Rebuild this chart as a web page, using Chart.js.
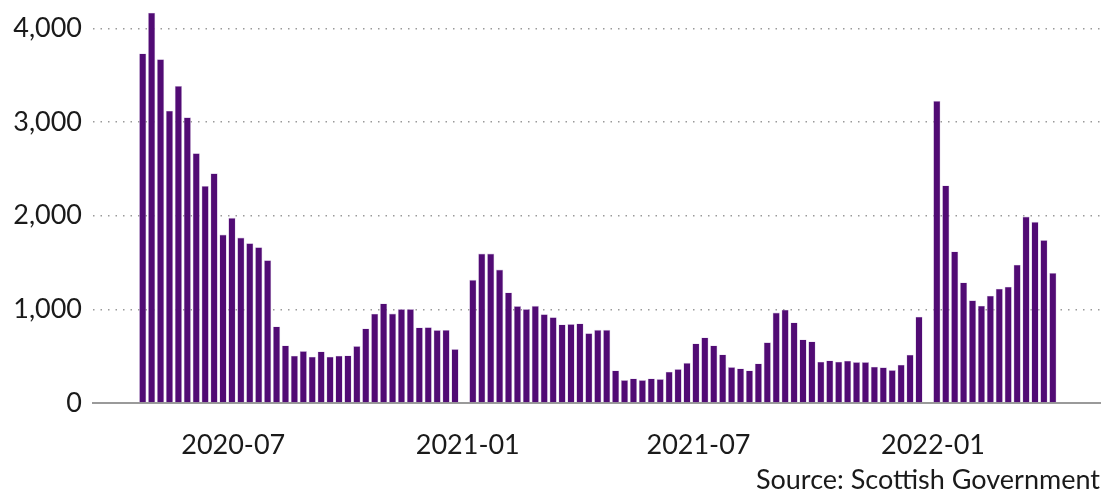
<!DOCTYPE html>
<html>
<head>
<meta charset="utf-8">
<script src="https://cdn.jsdelivr.net/npm/chart.js@4"></script>
<style>
  html, body { margin: 0; padding: 0; background: #fff; }
</style>
</head>
<body>
<canvas id="chartSemanal" width="1108" height="494"></canvas>
<script>
// Weekly figures, first week and the weeks that follow (null = no figure that week)
const firstWeek = '2020-04-21';
const weeklyValues = [
  3733, 4168, 3672, 3121, 3385, 3051, 2667, 2318, 2453, 1798,
  1977, 1767, 1707, 1664, 1525, 817, 615, 505, 555, 494,
  551, 494, 505, 508, 608, 796, 953, 1063, 955, 1003,
  1003, 807, 810, 779, 780, 576, null, 1315, 1596, 1596,
  1425, 1180, 1035, 1003, 1038, 949, 917, 839, 843, 849,
  746, 781, 781, 348, 245, 262, 245, 262, 256, 334,
  362, 429, 636, 700, 615, 519, 384, 369, 348, 423,
  648, 966, 996, 860, 679, 657, 441, 455, 441, 451,
  437, 437, 388, 381, 352, 409, 516, 922, null, 3227,
  2323, 1619, 1288, 1096, 1039, 1146, 1221, 1242, 1477, 1991,
  1935, 1740, 1388
];
const xTickDates = ['2020-07-01', '2021-01-01', '2021-07-01', '2022-01-01'];
const xTickLabels = ['2020-07', '2021-01', '2021-07', '2022-01'];
const yTickValues = [0, 1000, 2000, 3000, 4000];
const sourceText = 'Source: Scottish Government';

const DAY = 86400000;
const dayNum = s => Date.UTC(+s.slice(0, 4), +s.slice(5, 7) - 1, +s.slice(8, 10)) / DAY;
const start = dayNum(firstWeek);
const points = weeklyValues.map((v, i) => ({ x: start + i * 7, y: v }));

const FONT = 'Lato';
const TXT = '#1a1a1a';

// source note, bottom right
const sourcePlugin = {
  id: 'sourceNote',
  afterDraw(chart) {
    const ctx = chart.ctx;
    ctx.save();
    ctx.font = '27px ' + FONT;
    ctx.fillStyle = TXT;
    ctx.textAlign = 'right';
    ctx.textBaseline = 'alphabetic';
    ctx.fillText(sourceText, chart.chartArea.right, 489);
    ctx.restore();
  }
};

new Chart(document.getElementById('chartSemanal'), {
  type: 'bar',
  data: {
    datasets: [{
      data: points,
      backgroundColor: '#510b74',
      borderColor: 'rgba(205,185,220,0.9)',
      borderWidth: 0.6,
      categoryPercentage: 0.9,
      barPercentage: 0.9
    }]
  },
  options: {
    responsive: false,
    animation: false,
    layout: { padding: { top: 5, right: 8, left: 0, bottom: 0 } },
    plugins: { legend: { display: false }, tooltip: { enabled: false } },
    scales: {
      x: {
        type: 'linear',
        offset: false,
        min: dayNum('2020-03-13'),
        max: dayNum('2022-05-12'),
        grid: { display: false },
        border: { display: true, color: '#9a9a9a', width: 2 },
        afterBuildTicks: s => { s.ticks = xTickDates.map(d => ({ value: dayNum(d) })); },
        afterFit: s => { s.height = 91; s.paddingLeft = 0; s.paddingRight = 0; },
        ticks: {
          autoSkip: false,
          maxRotation: 0,
          padding: 18,
          color: TXT,
          font: { family: FONT, size: 27 },
          callback: (v, i) => xTickLabels[i]
        }
      },
      y: {
        min: 0,
        max: 4250,
        border: { display: false, dash: [1.5, 6] },
        grid: {
          drawTicks: false,
          lineWidth: 1.5,
          color: c => (c.tick && c.tick.value === 0 ? 'rgba(0,0,0,0)' : '#9a9a9a')
        },
        afterBuildTicks: s => { s.ticks = yTickValues.map(v => ({ value: v })); },
        afterFit: s => { s.width = 93; s.paddingTop = 0; s.paddingBottom = 0; },
        ticks: {
          padding: 11,
          color: TXT,
          font: { family: FONT, size: 27 },
          callback: v => v.toLocaleString('en-US')
        }
      }
    }
  },
  plugins: [sourcePlugin]
});
</script>
</body>
</html>
